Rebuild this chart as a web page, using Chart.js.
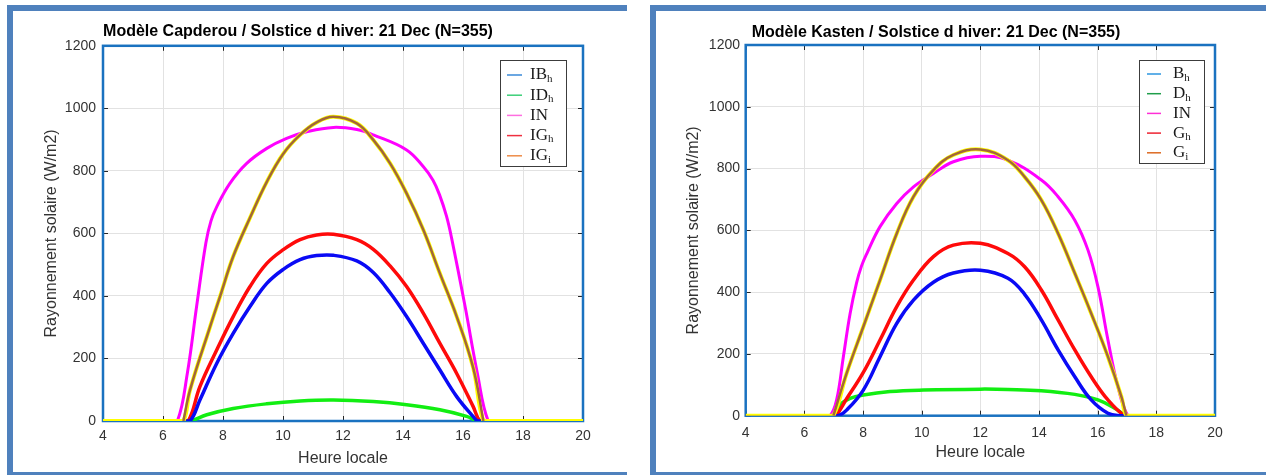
<!DOCTYPE html>
<html>
<head>
<meta charset="utf-8">
<title>Rayonnement solaire - solstice d'hiver</title>
<script src="https://cdn.jsdelivr.net/npm/chart.js@4.4.1/dist/chart.umd.min.js"></script>
<style>
  html, body { margin: 0; padding: 0; background: #fff; overflow: hidden; }
  body { width: 1266px; height: 475px; position: relative; }
  .frame { position: absolute; box-sizing: border-box; border: 6px solid #4f81bd; border-right: none; }
  #frameLeft { left: 7px; top: 5px; width: 620px; height: 473px; }
  #frameRight { left: 650px; top: 5px; width: 700px; height: 473px; }
  canvas { position: absolute; }
  #chartLeft { left: 13px; top: 11px; }
  #chartRight { left: 657px; top: 11px; }
</style>
</head>
<body>
<div class="frame" id="frameLeft"></div>
<div class="frame" id="frameRight"></div>
<canvas id="chartLeft" width="612" height="459"></canvas>
<canvas id="chartRight" width="600" height="459"></canvas>
<script>
// axes
const hourTicks = [4, 6, 8, 10, 12, 14, 16, 18, 20];
const powerTicks = [0, 200, 400, 600, 800, 1000, 1200];

// Modele Capderou
const capHoursIB = [4, 6.6, 6.9, 7.23, 7.79, 8.34, 8.9, 9.46, 10.01, 10.57, 11.12, 11.68, 12.46, 13.01, 13.57, 14.12, 14.68, 15.23, 15.79, 16.34, 16.5, 16.8, 20];
const capIB = [0, 0, 0, 67, 184, 280, 366, 440, 485, 516, 529, 530, 512, 475, 410, 334, 248, 163, 78, 14, 0, 0, 0];
const capHoursID = [4, 6.6, 6.9, 7.46, 8.34, 9.46, 10.57, 11.68, 13.01, 14.12, 15.23, 16.12, 16.5, 16.8, 20];
const capID = [0, 0, 0, 20, 40, 55, 64, 67, 62, 52, 36, 15, 0, 0, 0];
const capHoursIN = [4, 6.2, 6.48, 6.81, 7.12, 7.43, 7.6, 7.79, 8.23, 8.79, 9.46, 10.12, 10.79, 11.68, 12.46, 13.01, 14.12, 14.68, 15.0, 15.23, 15.45, 15.62, 16.07, 16.48, 16.84, 17.1, 20];
const capIN = [0, 0, 0, 152, 366, 570, 640, 685, 760, 824, 872, 904, 925, 939, 932, 915, 867, 813, 770, 720, 655, 585, 366, 152, 0, 0, 0];
const capHoursIG = [4, 6.55, 6.84, 7.23, 7.79, 8.34, 8.9, 9.46, 10.01, 10.57, 11.12, 11.68, 12.46, 13.01, 13.57, 14.12, 14.68, 15.23, 15.79, 16.34, 16.57, 16.85, 20];
const capIG = [0, 0, 0, 110, 227, 334, 430, 504, 548, 580, 595, 597, 580, 549, 496, 430, 344, 248, 152, 46, 0, 0, 0];
const capHoursGi = [4, 6.4, 6.68, 6.9, 7.57, 7.9, 8.34, 8.9, 9.46, 10.01, 10.57, 11.12, 11.68, 12.46, 13.01, 13.57, 14.12, 14.68, 15.23, 15.79, 16.34, 16.68, 16.95, 20];
const capGi = [0, 0, 0, 99, 302, 398, 526, 650, 765, 855, 915, 955, 973, 952, 899, 824, 728, 611, 472, 334, 170, 0, 0, 0];

// Modele Kasten
const kasHoursB = [4, 6.85, 7.16, 7.44, 8.01, 8.58, 9.15, 9.72, 10.4, 11.08, 12, 12.94, 13.51, 14.08, 14.65, 15.22, 15.78, 16.35, 16.81, 17.1, 20];
const kasB = [0, 0, 0, 18, 83, 191, 299, 374, 432, 462, 471, 445, 393, 310, 213, 126, 51, 8, 0, 0, 0];
const kasHoursD = [4, 6.8, 7.05, 7.22, 7.56, 8.01, 8.92, 10.06, 12, 12.94, 14.08, 15.22, 16.01, 16.58, 16.98, 17.25, 20];
const kasD = [0, 0, 0, 35, 56, 67, 78, 83, 86, 85, 81, 69, 51, 24, 0, 0, 0];
const kasHoursIN = [4, 6.6, 6.875, 7.1, 7.33, 7.56, 7.78, 7.95, 8.13, 8.58, 9.15, 9.72, 10.4, 11.08, 12, 12.94, 14.08, 14.65, 15.22, 15.67, 16.01, 16.35, 16.69, 17.03, 17.3, 20];
const kasIN = [0, 0, 0, 51, 191, 331, 430, 485, 525, 612, 687, 741, 784, 822, 840, 827, 763, 709, 633, 536, 417, 245, 94, 0, 0, 0];
const kasHoursG = [4, 6.75, 7.05, 7.44, 8.01, 8.58, 9.15, 9.72, 10.4, 11.08, 12, 12.94, 13.51, 14.08, 14.65, 15.22, 15.78, 16.35, 16.92, 17.2, 20];
const kasG = [0, 0, 0, 55, 140, 245, 353, 439, 515, 552, 558, 525, 482, 407, 310, 213, 126, 51, 0, 0, 0];
const kasHoursGi = [4, 6.7, 6.99, 7.44, 8.01, 8.58, 9.15, 9.72, 10.4, 11.08, 12, 12.94, 13.51, 14.08, 14.65, 15.22, 15.78, 16.35, 16.81, 16.98, 17.25, 20];
const kasGi = [0, 0, 0, 137, 288, 439, 590, 709, 795, 844, 862, 827, 773, 698, 590, 461, 331, 191, 61, 0, 0, 0];

// legendes
const capNames = ['IB', 'ID', 'IN', 'IG', 'IG'];
const kasNames = ['B', 'D', 'IN', 'G', 'G'];
const legendSubs = ['h', 'h', '', 'h', 'i'];

function pts(hours, vals) {
  return hours.map((h, i) => ({ x: h, y: vals[i] }));
}

function line(data, color, width) {
  return {
    data: data,
    borderColor: color,
    borderWidth: width,
    pointRadius: 0,
    fill: false,
    tension: 0.4,
  };
}

// cadre bleu + petites graduations a l'interieur, et legende dans le coin
const matlabBox = {
  id: 'matlabBox',
  beforeDatasetsDraw(chart) {
    const { ctx, chartArea: a, scales: { x, y } } = chart;
    ctx.save();
    ctx.strokeStyle = '#262626';
    ctx.lineWidth = 1;
    ctx.beginPath();
    x.ticks.forEach((t) => {
      const px = Math.round(x.getPixelForValue(t.value)) + 0.5;
      ctx.moveTo(px, a.top); ctx.lineTo(px, a.top + 5);
      ctx.moveTo(px, a.bottom); ctx.lineTo(px, a.bottom - 5);
    });
    y.ticks.forEach((t) => {
      const py = Math.round(y.getPixelForValue(t.value)) + 0.5;
      ctx.moveTo(a.left, py); ctx.lineTo(a.left + 5, py);
      ctx.moveTo(a.right, py); ctx.lineTo(a.right - 5, py);
    });
    ctx.stroke();
    ctx.strokeStyle = '#1a72c0';
    ctx.lineWidth = 2.5;
    ctx.strokeRect(a.left, a.top, a.width, a.height);
    ctx.restore();
  },
  afterDraw(chart, args, o) {
    const { ctx, chartArea: a } = chart;
    const x0 = Math.round(a.right - o.right - o.width);
    const y0 = Math.round(a.top + o.top);
    ctx.save();
    ctx.fillStyle = '#fff';
    ctx.fillRect(x0, y0, o.width, o.height);
    ctx.strokeStyle = '#3c3c3c';
    ctx.lineWidth = 1;
    ctx.strokeRect(x0 + 0.5, y0 + 0.5, o.width, o.height);
    o.names.forEach((name, i) => {
      const yy = y0 + o.firstRow + i * o.rowGap;
      ctx.strokeStyle = o.colors[i];
      ctx.lineWidth = 1.5;
      ctx.beginPath();
      ctx.moveTo(x0 + o.lineFrom, yy);
      ctx.lineTo(x0 + o.lineTo, yy);
      ctx.stroke();
      ctx.fillStyle = '#1a1a1a';
      ctx.textBaseline = 'middle';
      ctx.font = '17px "Liberation Serif", serif';
      ctx.fillText(name, x0 + o.textX, yy);
      const w = ctx.measureText(name).width;
      ctx.font = '11px "Liberation Serif", serif';
      ctx.fillText(legendSubs[i], x0 + o.textX + w, yy + 4);
    });
    ctx.restore();
  },
};

function makeChart(id, title, series, lay, legend) {
  const sans = '"Liberation Sans", Arial, sans-serif';
  return new Chart(document.getElementById(id), {
    type: 'line',
    data: {
      datasets: [
        // IG_i en brun, par-dessus un trace jaune
        line(pts(series.gi[0], series.gi[1]).slice(2, -2), '#a2663a', 2.5),
        line(pts(series.gi[0], series.gi[1]), '#ffff00', 4),
        line(pts(series.b[0], series.b[1]), '#0a0af5', 3.5),
        line(pts(series.g[0], series.g[1]), '#ff0a0a', 3.5),
        line(pts(series.d[0], series.d[1]), '#12ee12', 3.5),
        line(pts(series.n[0], series.n[1]), '#ff00ff', 3),
      ],
    },
    options: {
      responsive: false,
      animation: false,
      layout: { padding: { left: 0, right: lay.padRight, top: 0, bottom: 0 } },
      plugins: {
        legend: { display: false },
        tooltip: { enabled: false },
        title: {
          display: true,
          text: title,
          color: '#000',
          font: { family: sans, size: 16, weight: 'bold' },
          padding: { top: lay.titleTop, bottom: lay.titleBottom },
        },
        matlabBox: legend,
      },
      scales: {
        x: {
          type: 'linear',
          min: 4,
          max: 20,
          afterBuildTicks: (s) => { s.ticks = hourTicks.map((v) => ({ value: v })); },
          afterFit: (s) => { s.height = lay.xHeight; },
          grid: { color: '#e2e2e2', drawTicks: false },
          border: { display: false },
          ticks: {
            color: '#333', padding: lay.xTickPad, font: { family: sans, size: 14 },
            callback: (v) => String(v),
          },
          title: {
            display: true,
            text: 'Heure locale',
            color: '#333',
            font: { family: sans, size: 16 },
            padding: { top: 0, bottom: lay.xTitlePad },
          },
        },
        y: {
          min: 0,
          max: 1200,
          afterBuildTicks: (s) => { s.ticks = powerTicks.map((v) => ({ value: v })); },
          afterFit: (s) => { s.width = lay.yWidth; },
          grid: { color: '#e2e2e2', drawTicks: false },
          border: { display: false },
          ticks: {
            color: '#333', padding: lay.yTickPad, font: { family: sans, size: 14 },
            callback: (v) => String(v),
          },
          title: {
            display: true,
            text: 'Rayonnement solaire (W/m2)',
            color: '#333',
            font: { family: sans, size: 16 },
            padding: { top: lay.yTitlePad, bottom: 0 },
          },
        },
      },
    },
    plugins: [matlabBox],
  });
}

makeChart('chartLeft', 'Modèle Capderou / Solstice d hiver: 21 Dec (N=355)', {
  b: [capHoursIB, capIB],
  d: [capHoursID, capID],
  n: [capHoursIN, capIN],
  g: [capHoursIG, capIG],
  gi: [capHoursGi, capGi],
}, {
  padRight: 42, titleTop: 11.4, titleBottom: 4.2, xHeight: 49, yWidth: 90,
  xTickPad: 7, yTickPad: 7, xTitlePad: 1.4, yTitlePad: 29.4,
}, {
  names: capNames,
  colors: ['#3a8ad8', '#3ccf78', '#ff6ee0', '#ef3040', '#ee8c48'],
  right: 17, top: 14, width: 66, height: 106,
  firstRow: 15, rowGap: 20.2, lineFrom: 7, lineTo: 22, textX: 30,
});

makeChart('chartRight', 'Modèle Kasten / Solstice d hiver: 21 Dec (N=355)', {
  b: [kasHoursB, kasB],
  d: [kasHoursD, kasD],
  n: [kasHoursIN, kasIN],
  g: [kasHoursG, kasG],
  gi: [kasHoursGi, kasGi],
}, {
  padRight: 42, titleTop: 12.4, titleBottom: 2.4, xHeight: 54.3, yWidth: 88.7,
  xTickPad: 9, yTickPad: 5.7, xTitlePad: 7.7, yTitlePad: 27.4,
}, {
  names: kasNames,
  colors: ['#2c96e0', '#1f9e4a', '#ff2ed6', '#ee2230', '#dd6a22'],
  right: 11, top: 15, width: 65, height: 103,
  firstRow: 14, rowGap: 19.7, lineFrom: 8, lineTo: 22, textX: 34,
});
</script>
</body>
</html>
